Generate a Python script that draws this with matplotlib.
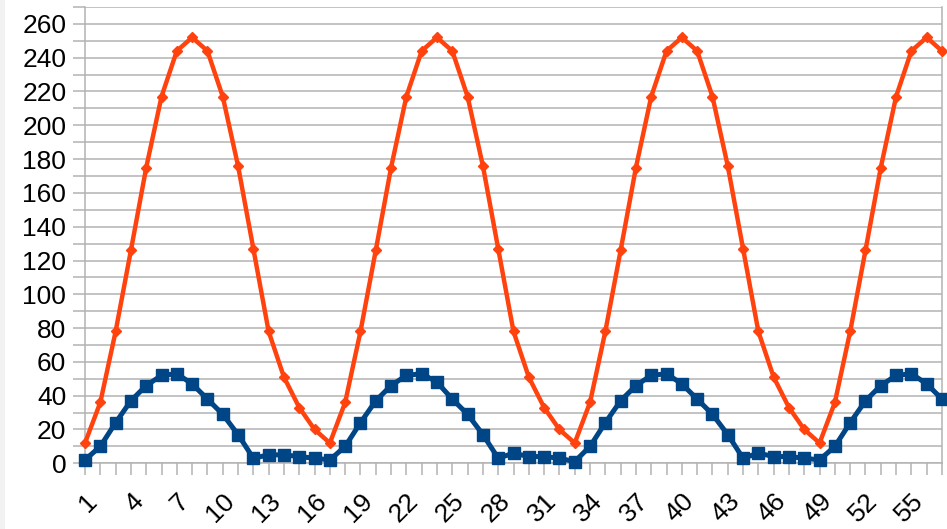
import numpy as np
import matplotlib
matplotlib.use('Agg')
import matplotlib.pyplot as plt
from matplotlib.patches import Rectangle
from matplotlib.ticker import MultipleLocator

# values
x = list(range(1, 58))
orange = [12, 36, 78, 126, 175, 217, 244, 252, 244, 217, 176, 127, 78, 51, 33, 20, 12,
          36, 78, 126, 175, 217, 244, 252, 244, 217, 176, 127, 78, 51, 33, 20, 12,
          36, 78, 126, 175, 217, 244, 252, 244, 217, 176, 127, 78, 51, 33, 20, 12,
          36, 78, 126, 175, 217, 244, 252, 244]
blue = [2, 10, 24, 37, 46, 52, 53, 47, 38, 29, 17, 3, 5, 5, 4, 3, 2,
        10, 24, 37, 46, 52, 53, 48, 38, 29, 17, 3, 6, 4, 4, 3, 1,
        10, 24, 37, 46, 52, 53, 47, 38, 29, 17, 3, 6, 4, 4, 3, 2,
        10, 24, 37, 46, 52, 53, 47, 38]
xticks = list(range(1, 58, 3))

plt.rcParams['font.family'] = ['Liberation Sans', 'DejaVu Sans']

fig = plt.figure(figsize=(9.47, 5.29), dpi=100)
fig.patches.append(Rectangle((0, 0), 5 / 947, 1, transform=fig.transFigure,
                             facecolor='#f2f2f2', edgecolor='none', zorder=0))
ax = fig.add_axes([85 / 947, 1 - 463.3 / 529, (942 - 85) / 947, (463.3 - 7) / 529])

grid_c = '#b3b3b3'
ax.plot(x, blue, color='#004586', lw=3.6, marker='s', ms=8, clip_on=False, zorder=3)
ax.plot(x, orange, color='#ff420e', lw=3.2, marker='D', ms=5.5, clip_on=False, zorder=4)

ax.set_xlim(1, 57)
ax.set_ylim(0, 270)
ax.yaxis.set_major_locator(MultipleLocator(20))
ax.yaxis.set_minor_locator(MultipleLocator(10))
ax.set_xticks(xticks)
ax.set_xticks(x, minor=True)

ax.grid(True, axis='y', which='both', color=grid_c, lw=1.1, zorder=0)
ax.tick_params(axis='both', which='both', length=8.5, width=1.1, color=grid_c, labelsize=19)
ax.tick_params(axis='y', pad=5)
ax.tick_params(axis='x', pad=10)
for lbl in ax.get_xticklabels():
    lbl.set_rotation(45)
    lbl.set_ha('right')
    lbl.set_va('top')
    lbl.set_rotation_mode('anchor')

for s in ['left', 'right', 'bottom']:
    ax.spines[s].set_color(grid_c)
    ax.spines[s].set_linewidth(1.1)
ax.spines['top'].set_visible(False)

fig.savefig('out.png', dpi=100)
